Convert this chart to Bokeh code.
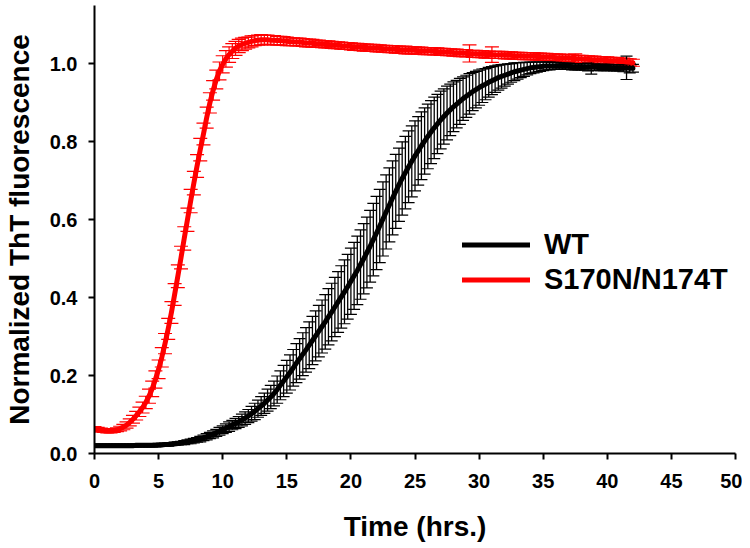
from bokeh.plotting import figure
from bokeh.models import (ColumnDataSource, Whisker, TeeHead, Legend, LegendItem,
                          Range1d, FixedTicker, NumeralTickFormatter)
from bokeh.embed import file_html
from bokeh.resources import INLINE

# sampling grid (hours)
time_h = [i * 0.25 for i in range(169)]

wt_mean = (
    [0.020] * 13 + [0.021] * 7 +
    [0.022, 0.022, 0.023, 0.023,
     0.024, 0.025, 0.026, 0.027,
     0.028, 0.030, 0.031, 0.033,
     0.035, 0.037, 0.040, 0.043,
     0.046, 0.049, 0.053, 0.057,
     0.061, 0.065, 0.069, 0.073,
     0.077, 0.081, 0.086, 0.091,
     0.096, 0.102, 0.108, 0.115,
     0.122, 0.129, 0.137, 0.145,
     0.154, 0.164, 0.175, 0.186,
     0.197, 0.208, 0.220, 0.232,
     0.243, 0.255, 0.266, 0.278,
     0.290, 0.302, 0.314, 0.326,
     0.338, 0.351, 0.363, 0.376,
     0.389, 0.402, 0.415, 0.428,
     0.442, 0.456, 0.470, 0.485,
     0.500, 0.516, 0.532, 0.549,
     0.566, 0.584, 0.602, 0.620,
     0.638, 0.656, 0.673, 0.690,
     0.706, 0.721, 0.736, 0.750,
     0.764, 0.777, 0.790, 0.802,
     0.814, 0.825, 0.836, 0.846,
     0.856, 0.865, 0.874, 0.882,
     0.890, 0.897, 0.904, 0.911,
     0.917, 0.923, 0.929, 0.934,
     0.939, 0.944, 0.948, 0.953,
     0.957, 0.961, 0.965, 0.968,
     0.971, 0.974, 0.977, 0.980,
     0.982, 0.984, 0.986, 0.988,
     0.990, 0.991, 0.992, 0.993,
     0.994, 0.995, 0.995, 0.995,
     0.995, 0.995, 0.994, 0.994,
     0.994, 0.993, 0.993, 0.993,
     0.993, 0.992, 0.992, 0.992,
     0.992, 0.991, 0.991, 0.991,
     0.991, 0.991, 0.990, 0.990,
     0.990, 0.990, 0.990, 0.989,
     0.989]
)

wt_err = (
    [0.004] * 28 +
    [0.005, 0.005, 0.006, 0.006, 0.006, 0.007, 0.007, 0.008, 0.008, 0.009, 0.009, 0.010,
     0.010, 0.011, 0.012, 0.012,
     0.013, 0.014, 0.015, 0.016,
     0.017, 0.019, 0.021, 0.022,
     0.024, 0.026, 0.028, 0.030,
     0.032, 0.035, 0.037, 0.040,
     0.042, 0.045, 0.047, 0.050,
     0.052, 0.055, 0.057, 0.060,
     0.062, 0.064, 0.066, 0.068,
     0.070, 0.072, 0.074, 0.076,
     0.078, 0.080, 0.082, 0.083,
     0.085, 0.086, 0.088, 0.089,
     0.090, 0.091, 0.092, 0.093,
     0.094, 0.094, 0.095, 0.095,
     0.095, 0.095, 0.095, 0.094,
     0.094, 0.093, 0.092, 0.091,
     0.090, 0.088, 0.087, 0.085,
     0.083, 0.081, 0.079, 0.076,
     0.074, 0.071, 0.069, 0.066,
     0.064, 0.061, 0.059, 0.056,
     0.054, 0.052, 0.049, 0.047,
     0.045, 0.043, 0.040, 0.038,
     0.036, 0.034, 0.032, 0.030,
     0.028, 0.026, 0.024, 0.023,
     0.021, 0.019, 0.018, 0.016,
     0.015, 0.014, 0.013, 0.012,
     0.011, 0.010, 0.010, 0.009,
     0.009, 0.008, 0.008, 0.008,
     0.008, 0.008, 0.008, 0.008,
     0.008, 0.008, 0.010, 0.018,
     0.008, 0.008, 0.008, 0.008,
     0.008, 0.008, 0.008, 0.008,
     0.008, 0.010, 0.030, 0.012,
     0.010]
)

mut_mean = [
    0.064, 0.062, 0.060, 0.059, 0.058, 0.058, 0.059, 0.061,
    0.064, 0.068, 0.073, 0.080, 0.088, 0.097, 0.107, 0.118,
    0.131, 0.147, 0.166, 0.190,
    0.216, 0.247, 0.282, 0.320,
    0.362, 0.408, 0.455, 0.503,
    0.552, 0.600, 0.648, 0.694,
    0.738, 0.780, 0.820, 0.862,
    0.900, 0.932, 0.960, 0.982,
    0.999, 1.013, 1.024, 1.033,
    1.040, 1.046, 1.050, 1.053,
    1.055, 1.058, 1.060, 1.061,
    1.062, 1.062, 1.062, 1.061,
    1.061, 1.060, 1.060, 1.059,
    1.058, 1.057, 1.057, 1.056,
    1.056, 1.055, 1.054, 1.054,
    1.053, 1.052, 1.052, 1.051,
    1.050, 1.050, 1.049, 1.048,
    1.048, 1.047, 1.046, 1.046,
    1.045, 1.044, 1.044, 1.043,
    1.042, 1.042, 1.041, 1.041,
    1.040, 1.040, 1.039, 1.039,
    1.038, 1.038, 1.037, 1.037,
    1.036, 1.036, 1.035, 1.035,
    1.035, 1.034, 1.034, 1.033,
    1.033, 1.033, 1.032, 1.032,
    1.031, 1.031, 1.030, 1.030,
    1.029, 1.029, 1.028, 1.028,
    1.027, 1.027, 1.026, 1.026,
    1.025, 1.025, 1.024, 1.024,
    1.024, 1.023, 1.023, 1.023,
    1.022, 1.022, 1.022, 1.021,
    1.021, 1.021, 1.020, 1.020,
    1.020, 1.020, 1.019, 1.019,
    1.018, 1.018, 1.017, 1.017,
    1.016, 1.016, 1.016, 1.015,
    1.015, 1.014, 1.014, 1.013,
    1.013, 1.012, 1.012, 1.011,
    1.011, 1.010, 1.010, 1.009,
    1.009, 1.008, 1.008, 1.007,
    1.006, 1.006, 1.005, 1.004,
    1.003,
]

mut_err = (
    [0.005] * 8 +
    [0.006, 0.007, 0.008, 0.009, 0.010, 0.011, 0.012, 0.014,
     0.016, 0.018, 0.020, 0.022,
     0.024, 0.025, 0.026, 0.027,
     0.028, 0.028, 0.029, 0.029,
     0.030, 0.030, 0.030, 0.030,
     0.029, 0.029, 0.028, 0.027,
     0.026, 0.025, 0.024, 0.023,
     0.022, 0.021, 0.020, 0.019,
     0.018, 0.017, 0.016, 0.015,
     0.014, 0.014, 0.013, 0.013,
     0.013, 0.012, 0.012, 0.012,
     0.012, 0.011, 0.011, 0.011,
     0.011, 0.010, 0.010, 0.010,
     0.010, 0.010, 0.010, 0.010,
     0.010, 0.009, 0.009, 0.009] +
    [0.009] * 24 +
    [0.009, 0.010, 0.009, 0.009] +
    [0.009] * 16 +
    [0.009, 0.022, 0.009, 0.009,
     0.009, 0.009, 0.009, 0.009,
     0.020, 0.009, 0.009, 0.009] +
    [0.009] * 20 +
    [0.009, 0.009, 0.012, 0.009] +
    [0.009] * 20 +
    [0.010]
)

x_ticks = [0, 5, 10, 15, 20, 25, 30, 35, 40, 45, 50]
y_ticks = [0.0, 0.2, 0.4, 0.6, 0.8, 1.0]

series_labels = ["WT", "S170N/N174T"]
series_colors = ["#000000", "#ff0000"]

FONT = "Liberation Sans"

p = figure(width=742, height=548, output_backend="svg", toolbar_location=None,
           x_range=Range1d(0, 50), y_range=Range1d(0, 1.15),
           min_border_left=94, min_border_right=7, min_border_top=5,
           min_border_bottom=95)
p.outline_line_color = None
p.grid.visible = False
p.background_fill_color = "white"

def add_series(t, m, e, color, wline, cap):
    src = ColumnDataSource(dict(
        t=t, m=m,
        lo=[a - b for a, b in zip(m, e)],
        up=[a + b for a, b in zip(m, e)],
    ))
    w = Whisker(base="t", lower="lo", upper="up", source=src,
                line_color=color, line_width=wline,
                upper_head=TeeHead(size=cap, line_color=color, line_width=1.2),
                lower_head=TeeHead(size=cap, line_color=color, line_width=1.2))
    p.add_layout(w)
    r = p.line("t", "m", source=src, line_color=color, line_width=5,
               line_cap="round", line_join="round")
    return r

r_mut = add_series(time_h, mut_mean, mut_err, series_colors[1], 1.2, 14)
r_wt = add_series(time_h, wt_mean, wt_err, series_colors[0], 1.3, 12)

legend = Legend(items=[LegendItem(label=series_labels[0], renderers=[r_wt]),
                       LegendItem(label=series_labels[1], renderers=[r_mut])],
                location=(368, 156), padding=0, margin=0, spacing=0,
                glyph_width=68, glyph_height=35, label_height=35,
                label_standoff=14, border_line_color=None,
                background_fill_alpha=0,
                label_text_font=FONT, label_text_font_style="bold",
                label_text_font_size="29px", label_text_color="black")
p.add_layout(legend)

for ax in (p.xaxis, p.yaxis):
    ax.axis_line_width = 2
    ax.axis_line_color = "black"
    ax.major_tick_line_width = 2
    ax.major_tick_line_color = "black"
    ax.major_tick_out = 6
    ax.major_tick_in = 0
    ax.minor_tick_line_color = None
    ax.major_label_text_font = FONT
    ax.major_label_text_font_style = "bold"
    ax.major_label_text_font_size = "20px"
    ax.major_label_text_color = "black"
    ax.axis_label_text_font = FONT
    ax.axis_label_text_font_style = "bold"
    ax.axis_label_text_color = "black"

p.xaxis.axis_label_text_font_size = "28px"
p.yaxis.axis_label_text_font_size = "28px"
p.xaxis.ticker = FixedTicker(ticks=x_ticks)
p.yaxis.ticker = FixedTicker(ticks=y_ticks)
p.yaxis.formatter = NumeralTickFormatter(format="0.0")
p.xaxis.axis_label = "Time (hrs.)"
p.yaxis.axis_label = "Normalized ThT fluorescence"
p.xaxis.major_label_standoff = 14
p.xaxis.axis_label_standoff = 20
p.yaxis.major_label_standoff = 11
p.yaxis.axis_label_standoff = 12

open("out.html", "w").write(file_html(p, INLINE))
